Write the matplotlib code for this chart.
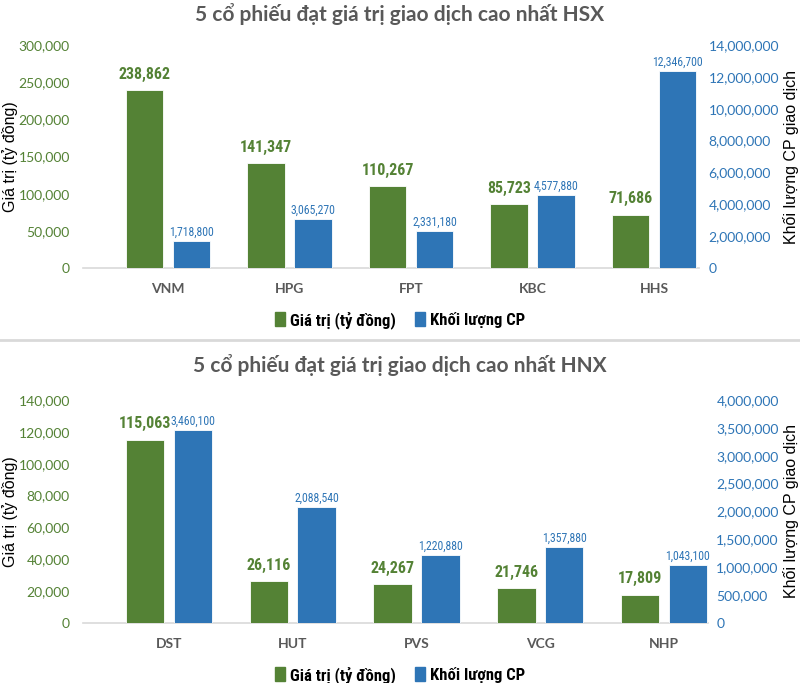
import numpy as np
import matplotlib
matplotlib.use("Agg")
import matplotlib.pyplot as plt
from matplotlib import font_manager
from matplotlib.patches import Patch
from matplotlib.ticker import FuncFormatter

# data
hsx_codes = ["VNM", "HPG", "FPT", "KBC", "HHS"]
hsx_value = [238862, 141347, 110267, 85723, 71686]
hsx_volume = [1718800, 3065270, 2331180, 4577880, 12346700]

hnx_codes = ["DST", "HUT", "PVS", "VCG", "NHP"]
hnx_value = [115063, 26116, 24267, 21746, 17809]
hnx_volume = [3460100, 2088540, 1220880, 1357880, 1043100]

GREEN = "#548235"
BLUE = "#2E75B6"
GRAY = "#595959"
CAL = ["Lato", "DejaVu Sans"]
ARIAL = ["Liberation Sans", "DejaVu Sans"]

# narrow font for data labels / legend, if there is one
names = {f.name for f in font_manager.fontManager.ttflist}
narrow = None
for n in ["Liberation Sans Narrow", "Roboto Condensed", "Open Sans Condensed", "DejaVu Sans Condensed"]:
    if n in names:
        narrow = n
        break
if narrow:
    NARROW = [narrow, "DejaVu Sans"]
    sz_green, sz_blue, sz_leg = 11.5, 8.5, 12
else:
    NARROW = ["Roboto", "DejaVu Sans"]
    sz_green, sz_blue, sz_leg = 9.5, 7.3, 10.5

fig = plt.figure(figsize=(8, 6.83), dpi=100)
fmt = FuncFormatter(lambda v, p: "{:,.0f}".format(v))
H = 683.0


def draw(px, codes, vals, vols, ymax1, step1, ymax2, step2, xlim, title, title_y, leg_y, rpad):
    left, right, top, bottom = px
    rect = [left / 800, (H - bottom) / H, (right - left) / 800, (bottom - top) / H]
    ax = fig.add_axes(rect)
    ax2 = ax.twinx()
    x = np.arange(len(codes))
    w = 0.31
    b1 = ax.bar(x - 0.193, vals, w, color=GREEN, edgecolor="white", linewidth=0.6, zorder=3)
    b2 = ax2.bar(x + 0.193, vols, w, color=BLUE, edgecolor="white", linewidth=0.6, zorder=3)
    ax.set_xlim(*xlim)
    ax.set_ylim(0, ymax1)
    ax2.set_ylim(0, ymax2)
    ax.set_yticks(np.arange(0, ymax1 + 1, step1))
    ax2.set_yticks(np.arange(0, ymax2 + 1, step2))
    ax.yaxis.set_major_formatter(fmt)
    ax2.yaxis.set_major_formatter(fmt)
    for a in (ax, ax2):
        for s in a.spines.values():
            s.set_visible(False)
        a.tick_params(length=0)
    ax.spines["bottom"].set_visible(True)
    ax.spines["bottom"].set_color("#D9D9D9")
    ax.spines["bottom"].set_linewidth(1.2)
    ax.tick_params(axis="y", colors=GREEN, labelsize=10, pad=9.5)
    ax2.tick_params(axis="y", colors=BLUE, labelsize=10, pad=rpad)
    for lb in ax.get_yticklabels() + ax2.get_yticklabels():
        lb.set_family(CAL)
    ax.set_xticks(x)
    ax.set_xticklabels(codes, color=GRAY, fontweight="bold", fontsize=10, family=CAL)
    ax.tick_params(axis="x", pad=11)
    for r, v in zip(b1, vals):
        ax.annotate("{:,}".format(v), (r.get_x() + r.get_width() / 2, r.get_height()),
                    xytext=(0, 6), textcoords="offset points", ha="center", va="bottom",
                    color=GREEN, fontweight="bold", fontsize=sz_green, family=NARROW)
    for r, v in zip(b2, vols):
        ax2.annotate("{:,}".format(v), (r.get_x() + r.get_width() / 2, r.get_height()),
                     xytext=(0, 1.5), textcoords="offset points", ha="center", va="bottom",
                     color=BLUE, fontsize=sz_blue, family=NARROW)
    fig.text(0.5, 1 - title_y / H, title, ha="center", va="center", color=GRAY,
             fontsize=15, fontweight="bold", family=CAL)
    mid = 1 - (top + bottom) / 2 / H
    fig.text(10 / 800, mid, "Giá trị (tỷ đồng)", rotation=90, ha="center", va="center",
             fontsize=11.5, family=ARIAL)
    fig.text(791 / 800, mid, "Khối lượng CP giao dịch", rotation=90, ha="center", va="center",
             fontsize=11.5, family=ARIAL)
    handles = [Patch(color=GREEN, label="Giá trị (tỷ đồng)"),
               Patch(color=BLUE, label="Khối lượng CP")]
    fig.legend(handles=handles, loc="center", bbox_to_anchor=(0.5, 1 - leg_y / H), ncol=2,
               frameon=False, handlelength=0.6, handleheight=0.9, handletextpad=0.3,
               columnspacing=1.2, prop={"family": NARROW, "weight": "bold", "size": sz_leg})


draw((83, 699, 45, 268), hsx_codes, hsx_value, hsx_volume,
     300000, 50000, 14000000, 2000000, (-0.70, 4.37),
     "5 cổ phiếu đạt giá trị giao dịch cao nhất HSX", 14, 320, 7)
draw((83, 708, 400, 623), hnx_codes, hnx_value, hnx_volume,
     140000, 20000, 4000000, 500000, (-0.695, 4.356),
     "5 cổ phiếu đạt giá trị giao dịch cao nhất HNX", 365, 675, 6)

# separator between the two charts
fig.add_artist(plt.Line2D([0, 1], [1 - 340 / H, 1 - 340 / H], color="#D9D9D9", linewidth=2))

fig.savefig("out.png", dpi=100, facecolor="white")
